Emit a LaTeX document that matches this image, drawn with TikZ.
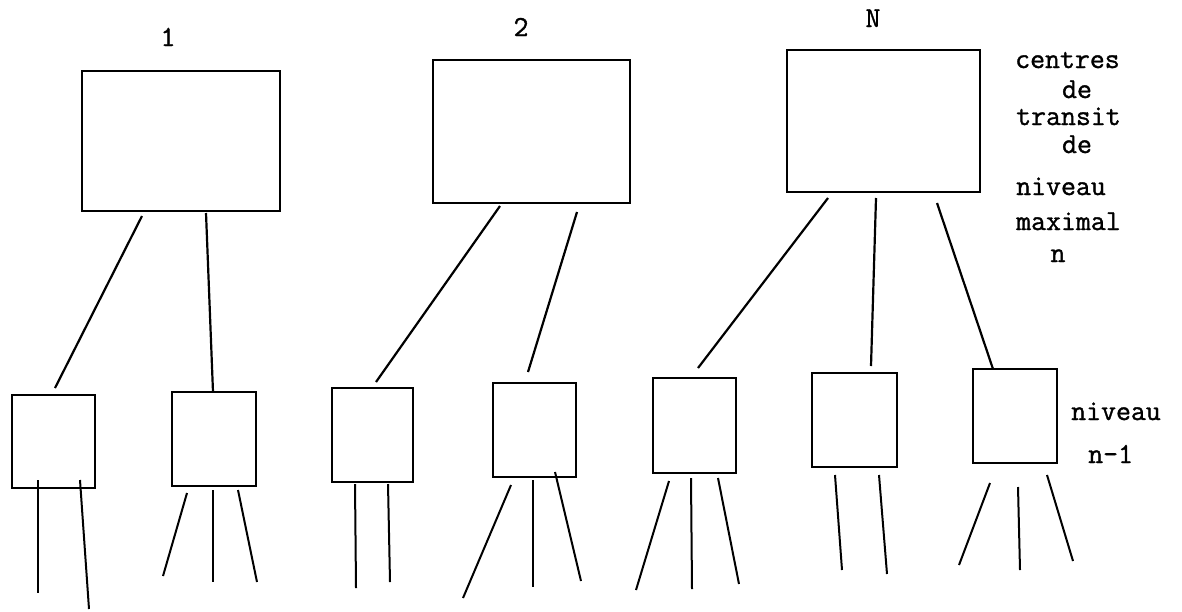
\documentclass[tikz,border=0pt]{standalone}
\usepackage{fontspec}
\newfontfamily\twfont[FakeBold=1.2]{Latin Modern Mono}
\begin{document}
\begin{tikzpicture}[x=1pt,y=-1pt,
  box/.style={draw,line width=2.6pt,inner sep=0pt},
  lnk/.style={line width=2.2pt},
  leg/.style={line width=2pt},
  lbl/.style={font=\fontsize{29}{30}\selectfont\twfont,inner sep=0pt}]
\useasboundingbox (0,0) rectangle (1182,611);
% top boxes
\node[box,minimum width=198pt,minimum height=140pt] (T1) at (181,141) {};
\node[box,minimum width=197pt,minimum height=143pt] (T2) at (531.5,131.5) {};
\node[box,minimum width=193pt,minimum height=142pt] (TN) at (883.5,121) {};
% lower boxes
\node[box,minimum width=83pt,minimum height=93pt] (L1) at (53.5,441.5) {};
\node[box,minimum width=84pt,minimum height=94pt] (L2) at (214,439) {};
\node[box,minimum width=81pt,minimum height=94pt] (L3) at (372.5,435) {};
\node[box,minimum width=83pt,minimum height=94pt] (L4) at (534.5,430) {};
\node[box,minimum width=83pt,minimum height=95pt] (L5) at (694.5,425.5) {};
\node[box,minimum width=85pt,minimum height=94pt] (L6) at (854.5,420) {};
\node[box,minimum width=84pt,minimum height=94pt] (L7) at (1015,416) {};
% labels
\node[lbl,anchor=base] (n1) at (168,46) {1};
\node[lbl,anchor=base] (n2) at (521,36) {2};
\node[lbl,anchor=base] (nN) at (873,27) {N};
\node[lbl,anchor=base west] (r1) at (1015,68) {centres};
\node[lbl,anchor=base] (r2) at (1077,98) {de};
\node[lbl,anchor=base west] (r3) at (1016,125) {transit};
\node[lbl,anchor=base] (r4) at (1077,153) {de};
\node[lbl,anchor=base west] (r5) at (1016,195) {niveau};
\node[lbl,anchor=base west] (r6) at (1016,230) {maximal};
\node[lbl,anchor=base] (r7) at (1058,262) {n};
\node[lbl,anchor=base west] (s1) at (1071,420) {niveau};
\node[lbl,anchor=base west] (s2) at (1088,463) {n-1};
% connector end points
\coordinate (a1) at (142,216); \coordinate (b1) at (55,388);
\coordinate (a2) at (206,213); \coordinate (b2) at (213,392);
\coordinate (a3) at (500,206); \coordinate (b3) at (376,382);
\coordinate (a4) at (577,212); \coordinate (b4) at (528,372);
\coordinate (a5) at (828,198); \coordinate (b5) at (698,368);
\coordinate (a6) at (876,198); \coordinate (b6) at (871,366);
\coordinate (a7) at (937,203); \coordinate (b7) at (993,369);
\draw[lnk] (a1) -- (b1);
\draw[lnk] (a2) -- (b2);
\draw[lnk] (a3) -- (b3);
\draw[lnk] (a4) -- (b4);
\draw[lnk] (a5) -- (b5);
\draw[lnk] (a6) -- (b6);
\draw[lnk] (a7) -- (b7);
% legs
\coordinate (p11) at (38,480); \coordinate (q11) at (38,593);
\coordinate (p12) at (80,480); \coordinate (q12) at (89,609);
\coordinate (p21) at (187,493); \coordinate (q21) at (163,576);
\coordinate (p22) at (213,490); \coordinate (q22) at (213,582);
\coordinate (p23) at (238,490); \coordinate (q23) at (257,582);
\coordinate (p31) at (355,484); \coordinate (q31) at (356,588);
\coordinate (p32) at (388,484); \coordinate (q32) at (390,582);
\coordinate (p41) at (511,485); \coordinate (q41) at (463,598);
\coordinate (p42) at (533,480); \coordinate (q42) at (533,587);
\coordinate (p43) at (555,472); \coordinate (q43) at (581,581);
\coordinate (p51) at (669,481); \coordinate (q51) at (636,590);
\coordinate (p52) at (691,478); \coordinate (q52) at (692,589);
\coordinate (p53) at (718,478); \coordinate (q53) at (739,584);
\coordinate (p61) at (835,475); \coordinate (q61) at (842,570);
\coordinate (p62) at (879,475); \coordinate (q62) at (887,574);
\coordinate (p71) at (990,483); \coordinate (q71) at (959,565);
\coordinate (p72) at (1018,487); \coordinate (q72) at (1020,570);
\coordinate (p73) at (1047,475); \coordinate (q73) at (1073,561);
\foreach \i in {11,12,21,22,23,31,32,41,42,43,51,52,53,61,62,71,72,73}
  \draw[leg] (p\i) -- (q\i);
\end{tikzpicture}
\end{document}
